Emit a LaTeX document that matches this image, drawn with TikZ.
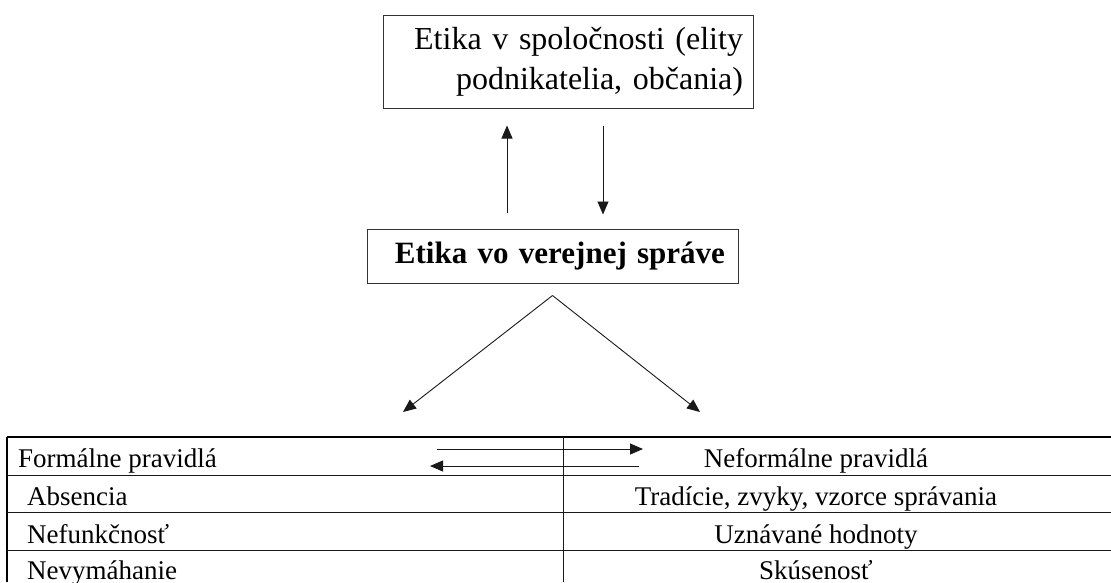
\documentclass[tikz,border=0pt]{standalone}
\usepackage{fontspec}
\setmainfont{Liberation Serif}
\usetikzlibrary{arrows.meta, positioning, calc}

\begin{document}
\begin{tikzpicture}[x=1pt, y=-1pt, >={Triangle[length=13pt, width=11pt]},
    line/.style={line width=0.9pt, black!90},
    box/.style={draw, line width=1pt, black!80, text=black, align=right, inner ysep=0pt},
    cell/.style={font=\fontsize{27}{32}\selectfont, inner sep=0pt}]
  \useasboundingbox (0,0) rectangle (1111,582);

  % Boxes
  \node[box, text width=350pt, inner xsep=10pt, minimum height=93pt,
        font=\fontsize{32}{40}\selectfont] (society) at (568,61.5)
        {Etika v spoločnosti (elity\\ podnikatelia, občania)};
  \node[box, text width=345pt, inner xsep=13pt, minimum height=54pt,
        font=\bfseries\fontsize{31}{36}\selectfont] (public) at (552.5,256)
        {Etika vo verejnej správe};

  % Arrows between the boxes
  \draw[line, ->, shorten <=16pt, shorten >=17pt]
    ([xshift=-45.5pt]public.north) -- ([xshift=-45.5pt]public.north |- society.south);
  \draw[line, ->, shorten <=17pt, shorten >=14pt]
    ([xshift=50.5pt]public.north |- society.south) -- ([xshift=50.5pt]public.north);

  % Split into the two kinds of rules
  \coordinate (apex) at ([yshift=-12pt]public.south);
  \coordinate (formal) at (403,412);
  \coordinate (informal) at (700,412);
  \draw[line, ->] (apex) -- (formal);
  \draw[line, ->] (apex) -- (informal);

  % Table
  \draw[line width=1.8pt] (7,437) -- (1111,437);
  \draw[line width=1.8pt] (7,437) -- (7,582);
  \foreach \y in {475,512,550}
    \draw[line] (7,\y) -- (1111,\y);
  \draw[line] (563,437) -- (563,582);

  % Cell texts
  \node[cell, anchor=base west] (left-0) at (18,467) {Formálne pravidlá};
  \foreach \t/\y [count=\i] in {Absencia/505, Nefunkčnosť/543, Nevymáhanie/579}
    \node[cell, anchor=base west] (left-\i) at (27,\y) {\t};
  \foreach \t/\y [count=\i from 0] in {Neformálne pravidlá/467,
      {Tradície, zvyky, vzorce správania}/505, Uznávané hodnoty/543, Skúsenosť/579}
    \node[cell, anchor=base] (right-\i) at (816,\y) {\t};

  % Arrows between the columns
  \coordinate (fwd-start) at (437,449);
  \coordinate (fwd-end) at (643,449);
  \coordinate (back-start) at (639,466);
  \coordinate (back-end) at (430,466);
  \draw[line, ->] (fwd-start) -- (fwd-end);
  \draw[line, ->] (back-start) -- (back-end);
\end{tikzpicture}
\end{document}
